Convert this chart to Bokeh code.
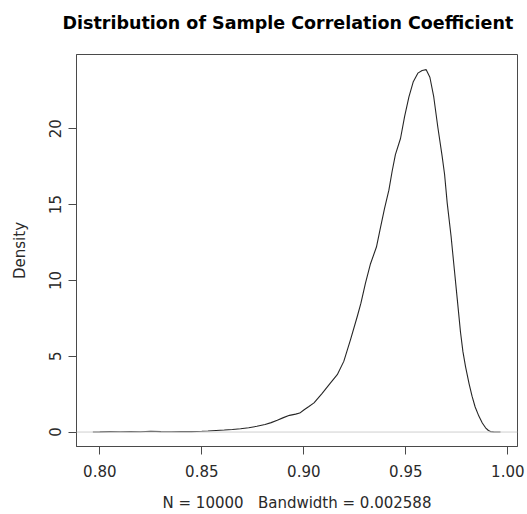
from bokeh.plotting import figure
from bokeh.models import Range1d, FixedTicker, NumeralTickFormatter, Span
from bokeh.embed import file_html
from bokeh.resources import INLINE

title_text = "Distribution of Sample Correlation Coefficient"
x_label = "N = 10000\u00a0\u00a0\u00a0Bandwidth = 0.002588"
y_label = "Density"

# density estimate
x_vals = [0.7966, 0.800, 0.805, 0.810, 0.815, 0.820, 0.825, 0.830, 0.835, 0.840,
          0.845, 0.850, 0.853, 0.857, 0.861, 0.865, 0.869, 0.873, 0.877, 0.881,
          0.884, 0.887, 0.890, 0.893, 0.896, 0.898, 0.900, 0.9025, 0.905, 0.909,
          0.9131, 0.9164, 0.9196, 0.9229, 0.9262, 0.9280, 0.9302, 0.9327, 0.9356,
          0.9373, 0.9395, 0.9417, 0.9433, 0.9449, 0.9474, 0.9494, 0.9515, 0.9536,
          0.9559, 0.9580, 0.9600, 0.9618, 0.9637, 0.9657, 0.9678, 0.9690, 0.9703,
          0.9722, 0.9738, 0.9752, 0.9768, 0.9780, 0.9793, 0.9810, 0.9825, 0.9840,
          0.9858, 0.9875, 0.9891, 0.9905, 0.9915, 0.9930, 0.9964]
density = [0.00, 0.01, 0.03, 0.02, 0.04, 0.02, 0.05, 0.03, 0.02, 0.04,
           0.03, 0.05, 0.07, 0.10, 0.13, 0.17, 0.22, 0.28, 0.38, 0.50,
           0.62, 0.78, 0.95, 1.10, 1.18, 1.25, 1.45, 1.68, 1.92, 2.55,
           3.24, 3.78, 4.66, 6.09, 7.62, 8.50, 9.80, 11.10, 12.20,
           13.30, 14.70, 15.95, 17.20, 18.30, 19.36, 20.80, 22.09, 23.08,
           23.67, 23.85, 23.90, 23.40, 22.10, 20.10, 18.20, 17.00, 15.10,
           12.90, 10.70, 8.80, 6.60, 5.30, 4.30, 3.20, 2.35, 1.65,
           1.05, 0.60, 0.28, 0.10, 0.03, 0.01, 0.00]

x_ticks = [0.80, 0.85, 0.90, 0.95, 1.00]
y_ticks = [0, 5, 10, 15, 20]

FONT = "DejaVu Sans"
DARK = "#4a4a4a"

p = figure(width=527, height=514, output_backend="svg", toolbar_location=None,
           title=title_text + "\n",
           x_range=Range1d(0.78858, 1.00475), y_range=Range1d(-0.954, 24.90),
           min_border_left=76, min_border_right=10, min_border_top=54,
           min_border_bottom=67)

xaxis = p.below[0]
yaxis = p.left[0]

p.background_fill_color = "white"
p.border_fill_color = "white"
p.outline_line_color = DARK
p.outline_line_width = 1
p.xgrid.visible = False
p.ygrid.visible = False

p.title.text_font = FONT
p.title.text_font_size = "17.5px"
p.title.text_font_style = "bold"
p.title.align = "left"
p.title.vertical_align = "top"
p.title.text_color = "black"
p.title.standoff = 0
p.title.offset = -14

zero = Span(location=0, dimension="width", line_color="#cfcfcf", line_width=1)
p.add_layout(zero)

p.line(x_vals, density, line_color="#262626", line_width=1.1)

for ax in (xaxis, yaxis):
    ax.axis_line_color = DARK
    ax.major_tick_line_color = DARK
    ax.minor_tick_line_color = None
    ax.major_tick_out = 8
    ax.major_tick_in = 0
    ax.major_label_text_font = FONT
    ax.major_label_text_font_size = "15px"
    ax.major_label_text_color = "#2a2a2a"
    ax.axis_label_text_font = FONT
    ax.axis_label_text_font_size = "15px"
    ax.axis_label_text_font_style = "normal"
    ax.axis_label_text_color = "#2a2a2a"

xaxis.ticker = FixedTicker(ticks=x_ticks)
xaxis.formatter = NumeralTickFormatter(format="0.00")
xaxis.axis_label = x_label
xaxis.major_label_standoff = 10
xaxis.axis_label_standoff = 14

yaxis.ticker = FixedTicker(ticks=y_ticks)
yaxis.axis_label = y_label
yaxis.major_label_orientation = "vertical"
yaxis.major_label_standoff = 7
yaxis.axis_label_standoff = 18

open("out.html", "w").write(file_html(p, INLINE))
